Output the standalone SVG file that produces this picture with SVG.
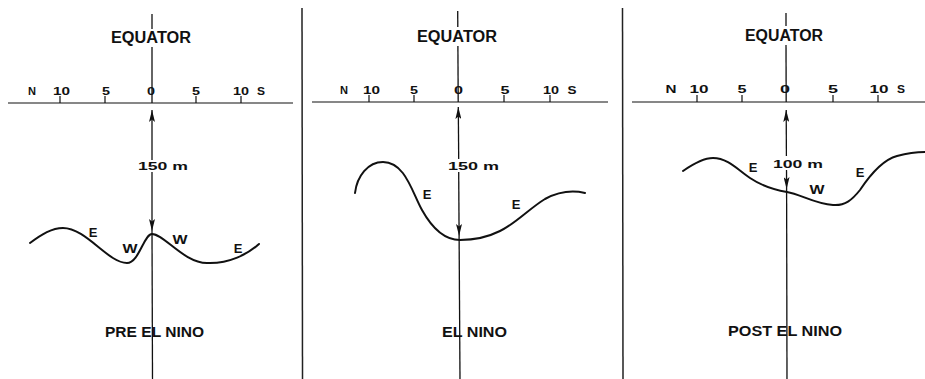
<svg xmlns="http://www.w3.org/2000/svg" width="925" height="379" viewBox="0 0 925 379">
<style>
text{font-family:"Liberation Sans",Arial,sans-serif;font-weight:bold;fill:#111}
.ttl{font-size:16px}
.tk{font-size:11px}
.lab{font-size:13px}
.dep{font-size:11.5px}
.cap{font-size:14px}
.ax{stroke:#111;stroke-width:1.2;fill:none}
.eq{stroke:#111;stroke-width:1.3;fill:none}
.sep{stroke:#222;stroke-width:1.5;fill:none}
.crv{stroke:#111;stroke-width:2;fill:none;stroke-linecap:round}
</style>
<defs>
<marker id="arr" viewBox="0 0 12 6" refX="12" refY="3" markerWidth="12" markerHeight="6" markerUnits="userSpaceOnUse" orient="auto">
<path d="M0,0 L12,3 L0,6 L2.5,3 Z" fill="#111"/>
</marker>
</defs>
<rect width="925" height="379" fill="#fff"/>

<g id="separators">
<line class="sep" x1="302" y1="8" x2="302.5" y2="379"/>
<line class="sep" x1="622.5" y1="8" x2="623" y2="379"/>
</g>

<g id="panel-pre">
<text class="ttl" x="151" y="43" text-anchor="middle" textLength="80" lengthAdjust="spacingAndGlyphs">EQUATOR</text>
<line class="ax" x1="8" y1="103" x2="293" y2="103"/>
<path class="ax" d="M60,96V103M105,96V103M196,96V103M241,96V103"/>
<text class="tk" x="32" y="95" text-anchor="middle" textLength="8" lengthAdjust="spacingAndGlyphs">N</text>
<text class="tk" x="61.5" y="95" text-anchor="middle" textLength="17" lengthAdjust="spacingAndGlyphs">10</text>
<text class="tk" x="106" y="95" text-anchor="middle" textLength="8" lengthAdjust="spacingAndGlyphs">5</text>
<text class="tk" x="151" y="95" text-anchor="middle" textLength="8" lengthAdjust="spacingAndGlyphs">0</text>
<text class="tk" x="196" y="95" text-anchor="middle" textLength="8" lengthAdjust="spacingAndGlyphs">5</text>
<text class="tk" x="241" y="95" text-anchor="middle" textLength="16" lengthAdjust="spacingAndGlyphs">10</text>
<text class="tk" x="261" y="95" text-anchor="middle" textLength="8" lengthAdjust="spacingAndGlyphs">S</text>
<text class="dep" x="163" y="170" text-anchor="middle" textLength="50" lengthAdjust="spacingAndGlyphs">150 m</text>
<path class="crv" d="M30,243 C42,234 52,228 63,228 C86,228 108,263 127,263 C139,263 144,234 152,234 C164,234 184,263 207,263 C229,264 248,254 259,244"/>
<text class="lab" x="93" y="237" text-anchor="middle">E</text>
<text class="lab" x="130" y="253" text-anchor="middle" textLength="15" lengthAdjust="spacingAndGlyphs">W</text>
<text class="lab" x="180" y="244" text-anchor="middle" textLength="15" lengthAdjust="spacingAndGlyphs">W</text>
<text class="lab" x="238" y="253" text-anchor="middle">E</text>
<text class="cap" x="154.5" y="337" text-anchor="middle" textLength="99" lengthAdjust="spacingAndGlyphs">PRE EL NINO</text>
</g>

<g id="panel-elnino">
<text class="ttl" x="457" y="42" text-anchor="middle" textLength="80" lengthAdjust="spacingAndGlyphs">EQUATOR</text>
<line class="ax" x1="312" y1="102" x2="608" y2="102"/>
<path class="ax" d="M369,95V102M414,95V102M504,95V102M550,95V102"/>
<text class="tk" x="344" y="94" text-anchor="middle" textLength="8" lengthAdjust="spacingAndGlyphs">N</text>
<text class="tk" x="371.5" y="94" text-anchor="middle" textLength="17" lengthAdjust="spacingAndGlyphs">10</text>
<text class="tk" x="414" y="94" text-anchor="middle" textLength="8" lengthAdjust="spacingAndGlyphs">5</text>
<text class="tk" x="458.5" y="94" text-anchor="middle" textLength="9" lengthAdjust="spacingAndGlyphs">0</text>
<text class="tk" x="505" y="94" text-anchor="middle" textLength="9" lengthAdjust="spacingAndGlyphs">5</text>
<text class="tk" x="551" y="94" text-anchor="middle" textLength="16" lengthAdjust="spacingAndGlyphs">10</text>
<text class="tk" x="572" y="94" text-anchor="middle" textLength="9" lengthAdjust="spacingAndGlyphs">S</text>
<text class="dep" x="473.5" y="170" text-anchor="middle" textLength="51" lengthAdjust="spacingAndGlyphs">150 m</text>
<path class="crv" d="M355,193 C357,176 368,162 383,162 C405,162 412,192 422,210 C432,228 445,240 460,240 C475,240 488,237 500,231 C515,224 530,208 545,199 C558,192 572,190 585,193"/>
<text class="lab" x="427" y="199" text-anchor="middle">E</text>
<text class="lab" x="516" y="209" text-anchor="middle">E</text>
<text class="cap" x="474.5" y="337" text-anchor="middle" textLength="65" lengthAdjust="spacingAndGlyphs">EL NINO</text>
</g>

<g id="panel-post">
<text class="ttl" x="784" y="41" text-anchor="middle" textLength="78" lengthAdjust="spacingAndGlyphs">EQUATOR</text>
<line class="ax" x1="632" y1="102" x2="925" y2="102"/>
<path class="ax" d="M697,95V102M742,95V102M833,95V102M878,95V102"/>
<text class="tk" x="671" y="93" text-anchor="middle" textLength="11" lengthAdjust="spacingAndGlyphs">N</text>
<text class="tk" x="699" y="93" text-anchor="middle" textLength="19" lengthAdjust="spacingAndGlyphs">10</text>
<text class="tk" x="742" y="93" text-anchor="middle" textLength="9" lengthAdjust="spacingAndGlyphs">5</text>
<text class="tk" x="785" y="93" text-anchor="middle" textLength="10" lengthAdjust="spacingAndGlyphs">0</text>
<text class="tk" x="833" y="93" text-anchor="middle" textLength="10" lengthAdjust="spacingAndGlyphs">5</text>
<text class="tk" x="879" y="93" text-anchor="middle" textLength="19" lengthAdjust="spacingAndGlyphs">10</text>
<text class="tk" x="901" y="93" text-anchor="middle" textLength="8" lengthAdjust="spacingAndGlyphs">S</text>
<text class="dep" x="798" y="168" text-anchor="middle" textLength="50" lengthAdjust="spacingAndGlyphs">100 m</text>
<path class="crv" d="M683,171 C693,164 703,158 713,158 C728,158 738,170 750,178 C762,186 775,190 787,192 C800,194 815,204 833,205 C845,206 852,200 860,190 C870,175 882,160 897,156 C908,153 918,152 925,152"/>
<text class="lab" x="753" y="172" text-anchor="middle">E</text>
<text class="lab" x="817" y="194" text-anchor="middle" textLength="15" lengthAdjust="spacingAndGlyphs">W</text>
<text class="lab" x="860" y="177" text-anchor="middle">E</text>
<text class="cap" x="785" y="336" text-anchor="middle" textLength="114" lengthAdjust="spacingAndGlyphs">POST EL NINO</text>
</g>

<g id="connectors">
<line class="eq" x1="152" y1="14" x2="152" y2="29"/>
<line class="eq" x1="152" y1="47" x2="152" y2="103"/>
<line class="eq" x1="152" y1="160" x2="152" y2="110" marker-end="url(#arr)"/>
<line class="eq" x1="152" y1="172" x2="152" y2="231" marker-end="url(#arr)"/>
<line class="eq" x1="152" y1="231" x2="152.5" y2="379"/>

<line class="eq" x1="457.7" y1="11" x2="457.8" y2="27"/>
<line class="eq" x1="457.9" y1="46" x2="458.2" y2="102"/>
<line class="eq" x1="458.7" y1="159" x2="458.3" y2="107" marker-end="url(#arr)"/>
<line class="eq" x1="458.7" y1="172" x2="459.1" y2="236" marker-end="url(#arr)"/>
<line class="eq" x1="459.1" y1="236" x2="460" y2="379"/>

<line class="eq" x1="786" y1="13" x2="786" y2="26"/>
<line class="eq" x1="786" y1="45" x2="786.2" y2="102"/>
<line class="eq" x1="786.4" y1="156" x2="786.2" y2="110" marker-end="url(#arr)"/>
<line class="eq" x1="786.5" y1="170" x2="786.6" y2="189" marker-end="url(#arr)"/>
<line class="eq" x1="786.6" y1="189" x2="787" y2="379"/>
</g>
</svg>
